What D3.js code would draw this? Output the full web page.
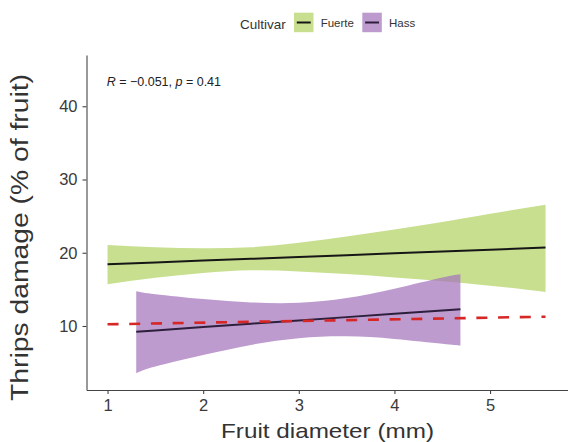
<!DOCTYPE html>
<html>
<head>
<meta charset="utf-8">
<script src="https://cdn.jsdelivr.net/npm/d3@7"></script>
<style>
  body { margin: 0; background: #fff; }
  svg { display: block; font-family: "Liberation Sans", Arial, sans-serif; }
</style>
</head>
<body>
<div id="chart"></div>
<script>
// fitted lines and confidence bands
var fuerteX = [1.0, 1.5, 2.0, 2.5, 3.0, 3.5, 4.0, 4.5, 5.0, 5.58]
var fuerteFit = [18.43, 18.68, 18.93, 19.17, 19.42, 19.67, 19.92, 20.16, 20.41, 20.70]
var fuerteUpper = [21.06, 20.75, 20.6, 20.75, 21.36, 22.23, 23.19, 24.21, 25.33, 26.55]
var fuerteLower = [15.71, 16.58, 17.24, 17.6, 17.44, 17.09, 16.63, 16.12, 15.51, 14.64]

var hassX = [1.3, 1.5, 2.0, 2.5, 3.0, 3.5, 4.0, 4.5, 4.69]
var hassFit = [9.22, 9.40, 9.86, 10.31, 10.76, 11.21, 11.66, 12.11, 12.28]
var hassUpper = [14.75, 14.34, 13.68, 13.22, 13.17, 13.83, 15.10, 16.63, 17.08]
var hassLower = [3.55, 4.47, 6.04, 7.42, 8.33, 8.59, 8.23, 7.57, 7.32]

// overall reference line (red dashed)
var refX = [1.0, 5.58]
var refY = [10.23, 11.27]

var xTicks = [1, 2, 3, 4, 5]
var yTicks = [10, 20, 30, 40]
var cultivars = ['Fuerte', 'Hass']

const width = 568
const height = 442
var margin = { top: 55, right: 0, bottom: 52, left: 86.5 }

var svg = d3.select('#chart').append('svg')
  .attr('width', width)
  .attr('height', height)

var x = d3.scaleLinear().domain([0.78, 5.815]).range([margin.left, width - margin.right])
var y = d3.scaleLinear().domain([1.26, 47.0]).range([height - margin.bottom, margin.top])

var color = { 'Fuerte': '#c8df90', 'Hass': '#a375bb' }
var lineColor = { 'Fuerte': '#161616', 'Hass': '#2e1f3d' }

function rows(xs, fit, lo, hi) {
  return xs.map(function (v, i) { return { x: v, fit: fit[i], lo: lo[i], hi: hi[i] } })
}
var groups = [
  { name: 'Fuerte', data: rows(fuerteX, fuerteFit, fuerteLower, fuerteUpper), opacity: 1 },
  { name: 'Hass', data: rows(hassX, hassFit, hassLower, hassUpper), opacity: 0.72 }
]

var band = d3.area()
  .x(d => x(d.x))
  .y0(d => y(d.lo))
  .y1(d => y(d.hi))
  .curve(d3.curveNatural)

var fitLine = d3.line().x(d => x(d.x)).y(d => y(d.fit))

// ribbons + lines, one group after the other like geom_smooth
groups.forEach(function (g) {
  svg.append('path')
    .attr('d', band(g.data))
    .attr('fill', color[g.name])
    .attr('fill-opacity', g.opacity)
  svg.append('path')
    .attr('d', fitLine(g.data))
    .attr('fill', 'none')
    .attr('stroke', lineColor[g.name])
    .attr('stroke-width', 2)
})

// red dashed line
svg.append('path')
  .attr('d', d3.line()(refX.map((v, i) => [x(v), y(refY[i])])))
  .attr('fill', 'none')
  .attr('stroke', '#d62626')
  .attr('stroke-width', 2.6)
  .attr('stroke-dasharray', '11 10.7')

// axes
var xAxis = svg.append('g')
  .attr('transform', 'translate(0,' + (height - margin.bottom) + ')')
  .call(d3.axisBottom(x).tickValues(xTicks).tickFormat(d3.format('d')).tickSize(4).tickPadding(5).tickSizeOuter(0))
var yAxis = svg.append('g')
  .attr('transform', 'translate(' + margin.left + ',0)')
  .call(d3.axisLeft(y).tickValues(yTicks).tickFormat(d3.format('d')).tickSize(4).tickPadding(5).tickSizeOuter(0))

;[xAxis, yAxis].forEach(function (a) {
  a.select('.domain').attr('stroke', '#444').attr('stroke-width', 1.1)
  a.selectAll('.tick line').attr('stroke', '#444').attr('stroke-width', 1.1)
  a.selectAll('.tick text')
    .attr('fill', '#3a3a3a')
    .style('font-size', '16.5px')
    .style('font-family', '"Liberation Sans", Arial, sans-serif')
})

// axis titles
svg.append('text')
  .attr('x', 327.5)
  .attr('y', 438)
  .attr('text-anchor', 'middle')
  .attr('fill', '#333')
  .attr('font-size', 21)
  .attr('textLength', 213)
  .attr('lengthAdjust', 'spacingAndGlyphs')
  .text('Fruit diameter (mm)')

svg.append('text')
  .attr('transform', 'translate(28,237.5) rotate(-90)')
  .attr('text-anchor', 'middle')
  .attr('fill', '#333')
  .attr('font-size', 23)
  .attr('textLength', 327)
  .attr('lengthAdjust', 'spacingAndGlyphs')
  .text('Thrips damage (% of fruit)')

// correlation annotation
var note = svg.append('text')
  .attr('x', 106.7)
  .attr('y', 86)
  .attr('fill', '#222')
  .attr('font-size', 12.5)
note.append('tspan').attr('font-style', 'italic').text('R')
note.append('tspan').text(' = \u22120.051, ')
note.append('tspan').attr('font-style', 'italic').text('p')
note.append('tspan').text(' = 0.41')

// legend
var legend = svg.append('g')
legend.append('text')
  .attr('x', 240)
  .attr('y', 29)
  .attr('fill', '#333')
  .attr('font-size', 13.5)
  .text('Cultivar')

var keyX = { 'Fuerte': 294, 'Hass': 362.3 }
cultivars.forEach(function (c) {
  legend.append('rect')
    .attr('x', keyX[c])
    .attr('y', 12.7)
    .attr('width', 19.5)
    .attr('height', 19.5)
    .attr('fill', color[c])
    .attr('fill-opacity', c == 'Hass' ? 0.72 : 1)
  legend.append('line')
    .attr('x1', keyX[c] + 2.8)
    .attr('x2', keyX[c] + 16.7)
    .attr('y1', 22.5)
    .attr('y2', 22.5)
    .attr('stroke', lineColor[c])
    .attr('stroke-width', 2)
  legend.append('text')
    .attr('x', keyX[c] + 26.7)
    .attr('y', 26.8)
    .attr('fill', '#333')
    .attr('font-size', 11.5)
    .text(c)
})
</script>
</body>
</html>
